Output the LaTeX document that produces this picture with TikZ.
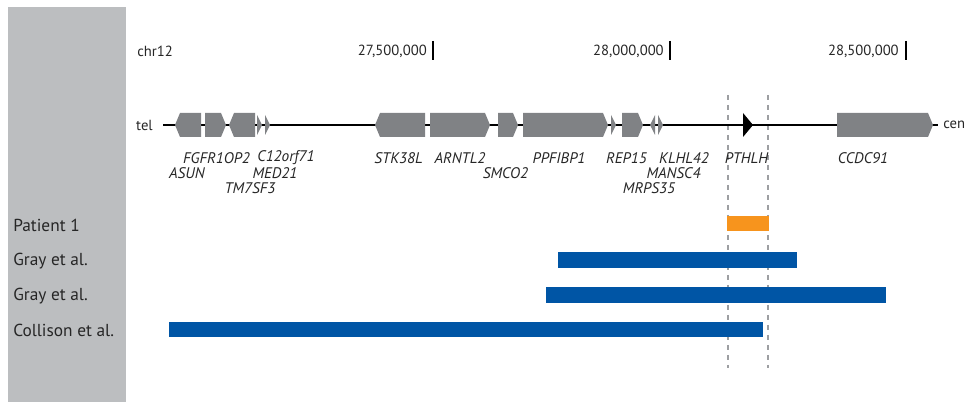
\documentclass[tikz,border=0pt]{standalone}
\usepackage{fontspec}
\setmainfont{PT Sans}
\definecolor{panelgray}{HTML}{BCBEC0}
\definecolor{genegray}{HTML}{808285}
\definecolor{dashgray}{HTML}{9D9FA2}
\definecolor{cnvblue}{HTML}{0055A5}
\definecolor{cnvorange}{HTML}{F7941D}
\begin{document}
\begin{tikzpicture}[x=0.75pt, y=-0.75pt]
     % Define styles
     \tikzstyle{gene} = [fill=genegray]
     \tikzstyle{track} = [line width=1.1pt, black]
     \tikzstyle{bound} = [dashgray, line width=1.7pt, dash pattern=on 4pt off 3.5pt]
     \tikzstyle{cnv} = [fill=cnvblue]
     \tikzstyle{lab} = [inner sep=0pt, font=\fontsize{11}{13}\selectfont, text=black!85]
     \tikzstyle{rowlab} = [lab, anchor=west, font=\fontsize{13}{16}\selectfont]
     \tikzstyle{genelab} = [lab, font=\fontsize{11.5}{13}\selectfont\itshape]

     \useasboundingbox (0,0) rectangle (968,402);

     % Side panel
     \fill[panelgray] (8,7) rectangle (126,402);

     % Coordinate axis
     \node[lab, anchor=west] (chr) at (137,51) {chr12};
     \node[lab, anchor=east] (t1) at (427,51) {27,500,000};
     \node[lab, anchor=east] (t2) at (664,51) {28,000,000};
     \node[lab, anchor=east] (t3) at (899,51) {28,500,000};
     \foreach \x in {433,670,906} {
          \draw[line width=1.5pt] (\x,41) -- (\x,60);
     }

     % Breakpoint boundaries
     \draw[bound] (728,95) -- (728,368);
     \draw[bound] (768,95) -- (768,368);

     % Chromosome track
     \node[lab, anchor=east] (tel) at (153,125) {tel};
     \node[lab, anchor=west] (cen) at (943,125) {cen};
     \draw[track, shorten <=7.5pt, shorten >=3.75pt] (tel.east) -- (cen.west);

     % Genes, forward strand
     \foreach \a/\b in {205/226, 430/490, 498/518, 523/608, 622/643, 837/933} {
          \fill[gene] (\a,113) -- (\b-5,113) -- (\b,125) -- (\b-5,137) -- (\a,137) -- cycle;
     }
     % Genes, reverse strand
     \foreach \a/\b in {175/201, 229/255, 375/425} {
          \fill[gene] (\b,113) -- (\a+5,113) -- (\a,125) -- (\a+5,137) -- (\b,137) -- cycle;
     }
     % Small genes
     \foreach \a in {257,265,611,658} {
          \fill[gene] (\a,115) -- (\a+5,125) -- (\a,135) -- cycle;
     }
     \fill[gene] (655,115) -- (650,125) -- (655,135) -- cycle;
     \fill[black] (743,113) -- (753,125) -- (743,137) -- cycle;

     % Gene names
     \node[genelab] (fgfr) at (216.5,158) {FGFR1OP2};
     \node[genelab] (asun) at (187,173) {ASUN};
     \node[genelab] (c12) at (286,158) {C12orf71};
     \node[genelab] (med) at (275,173) {MED21};
     \node[genelab] (tm7) at (250,188) {TM7SF3};
     \node[genelab] (stk) at (398.5,158) {STK38L};
     \node[genelab] (arntl) at (460,158) {ARNTL2};
     \node[genelab] (smco) at (505.5,173) {SMCO2};
     \node[genelab] (ppf) at (559,158) {PPFIBP1};
     \node[genelab] (rep) at (626.5,158) {REP15};
     \node[genelab] (klhl) at (684,158) {KLHL42};
     \node[genelab] (mansc) at (673.5,173) {MANSC4};
     \node[genelab] (mrps) at (649,188) {MRPS35};
     \node[genelab] (pthlh) at (746.5,158) {PTHLH};
     \node[genelab] (ccdc) at (863,158) {CCDC91};

     % Deletions
     \node[rowlab] (pat) at (13,225) {Patient 1};
     \fill[cnvorange] (727,216) rectangle (769,231);
     \node[rowlab] (gray1) at (13,261) {Gray et al.};
     \fill[cnv] (558,252) rectangle (797,268);
     \node[rowlab] (gray2) at (13,296) {Gray et al.};
     \fill[cnv] (546,287) rectangle (886,303);
     \node[rowlab] (coll) at (13,330) {Collison et al.};
     \fill[cnv] (169,322) rectangle (763,337);

\end{tikzpicture}
\end{document}
